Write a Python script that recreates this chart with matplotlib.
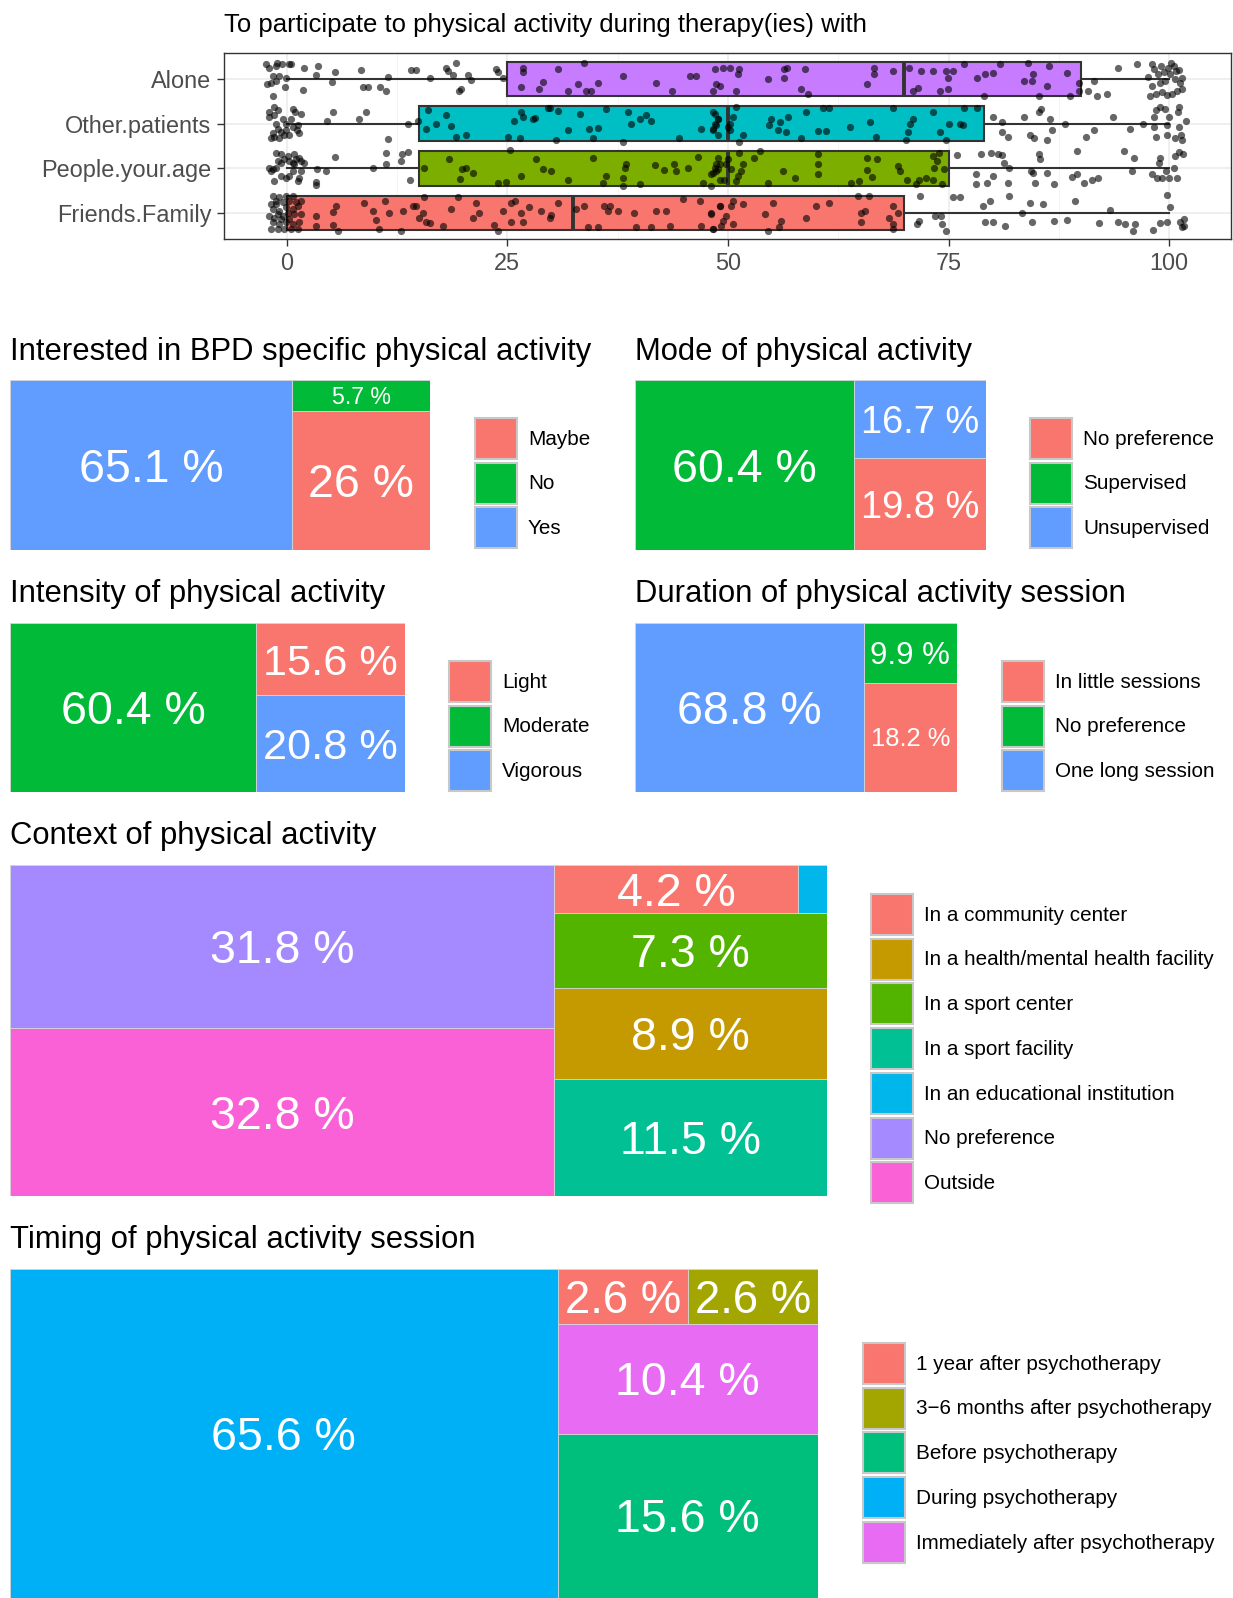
import numpy as np
import matplotlib
matplotlib.use('Agg')
import matplotlib.pyplot as plt
from matplotlib.patches import Patch
from matplotlib.transforms import ScaledTranslation

plt.rcParams['font.family'] = ['Liberation Sans', 'DejaVu Sans']

# ---------------- data: box plot ----------------
box_names = ['Friends.Family', 'People.your.age', 'Other.patients', 'Alone']
box_colors = ['#F8766D', '#7CAE00', '#00BFC4', '#C77CFF']
box_lo = [0, 0, 0, 0]
box_q1 = [0, 15, 15, 25]
box_med = [32.5, 50, 50, 70]
box_q3 = [70, 75, 79, 90]
box_hi = [100, 100, 100, 100]

# jittered answers (x value, vertical jitter)
friends_x = [-1.78, -1.02, -0.26, 0.49, 1.25, -1.59, -0.83, -0.08, 0.68, 1.44, -1.97, -1.4, -1.02, -0.45, 0.11,
             0.87, 1.63, -1.59, -0.83, -0.08, 0.68, 1.25, -1.78, -1.21, -0.45, 0.3, 1.06, 1.63, -1.59, -0.83,
             -0.08, 0.68, -0.64, 0.3, -1.21,
             3.3, 3.3, 5.2, 5.3, 5.6, 5.8, 8.8, 9.8, 10.1, 10.5, 11.1, 11.6, 13, 13.2, 14.3, 14.7, 15, 15.4, 15.8,
             16.2, 15.6, 17.7, 18.6, 19.4, 21.1, 21.5, 21.8, 23.5, 23.9, 24.5, 25.4, 25.9, 25.4, 26.6, 26.8, 27.5,
             28.8, 29.8, 30, 30.7, 32.8, 33.7, 34.1, 35.3, 36, 36.6, 36.4, 37.5, 39.4, 39.6, 41.3, 41.9, 43, 43.4,
             44.9, 46.8, 47, 48.1, 49.1, 48.3,
             48.3, 49.2, 49.4, 49.8, 50.6, 50.4, 50.6, 51.7, 48.1, 49.1, 54.2, 54.5, 55.1, 55.8, 56, 58.9, 60,
             61.5, 64.7, 66, 65.1, 65.1, 65.5, 68.7, 68.7, 68.3, 68.7, 69.3,
             71.4, 71.6, 71.8, 73.5, 74.1, 74.7, 74.3, 75.5, 76.3, 78.9, 79.1, 79.7, 80, 81.4, 81.9, 83.3, 84.4,
             84.2, 85.7, 86.9, 88.4, 89.3, 92, 93.3, 94.2, 95, 95.9, 96.1, 98.2, 98.9, 99.8, 99.7, 100.1, 101.2,
             101.7, 101.7, 101.5]
friends_dy = [-0.36, -0.36, -0.36, -0.36, -0.36, -0.21, -0.25, -0.21, -0.25, -0.21, -0.06, -0.1, -0.02, -0.06, 0.01,
              -0.02, -0.02, 0.09, 0.05, 0.13, 0.09, 0.16, 0.2, 0.2, 0.24, 0.28, 0.24, 0.28, 0.39, 0.35,
              0.39, 0.39, -0.13, -0.13, 0.28,
              -0.3, -0.07, -0.27, 0.03, 0.16, -0.39, 0.22, 0.05, -0.16, -0.36, 0.28, 0.01, -0.39, 0.05, 0.16, 0.15,
              -0.1, 0, -0.21, -0.22, 0.35, -0.28, 0.09, 0.35, -0.1, 0.22, 0, -0.26, -0.39, 0.05, 0.22, 0.28, -0.21,
              0.01, -0.21, 0.13, 0.05, -0.1, -0.04, 0.22, 0.09, 0.16, -0.32, -0.32, 0.16, 0.16, 0.05, 0.05, 0.01,
              -0.32, -0.32, 0.05, 0.05, -0.28, 0.31, 0.28, -0.28, 0, 0.16, -0.36,
              -0.36, -0.28, -0.17, -0.06, -0.25, 0.16, 0.28, 0.2, -0.02, 0.16, -0.02, -0.39, 0.22, -0.32, -0.17,
              -0.1, 0.16, 0.22, 0.39, 0.39, -0.21, 0.01, 0.05, -0.36, -0.25, -0.1, 0.16, 0.01,
              -0.25, -0.17, 0.39, -0.06, -0.06, -0.39, -0.25, 0.35, 0.35, 0.16, -0.19, 0.28, -0.19, -0.3, 0.39,
              0.01, -0.19, 0.22, 0.2, -0.17, -0.15, 0.28, -0.22, 0.07, -0.21, -0.25, -0.39, -0.25, -0.37, -0.22,
              -0.21, 0.4, 0.13, -0.21, -0.28, -0.13, -0.32]

people_x = [-1.97, -1.59, -1.21, -0.64, -0.08, 0.3, 0.68, 1.25, 1.44, 1.63, -1.4, -1.02, -0.64, -0.26, 0.3, 0.68,
            1.06, 1.63, 2.0, -1.21, -0.64, 0.11, 0.87, 1.44, 0.87, -1.78,
            3.3, 3.3, 3.4, 4.5, 5.5, 9.8, 11.3, 11.2, 13, 13.1, 13.8, 14,
            15.6, 18.4, 19.6, 19.9, 20.3, 21.1, 23.9, 24.9, 25.3, 26.5, 28.3, 29, 30, 31.9, 34.7, 35.8, 36.2,
            38.1, 38.1, 38.3, 38.5, 40, 41.7, 42.8, 43.9, 44.1, 45.5, 46.6, 48.1, 48.1, 48.7, 48.7, 48.9, 49.1,
            47.2, 48.3, 48.5, 48.9, 49.1, 49.6, 49.8, 50, 50.4, 50.9, 51.1, 51.5, 51.7, 51.3, 53, 53.6, 54.5,
            56.2, 57.6, 60.2, 60.2, 60.2, 63.9, 64.8, 65.8, 65.8, 66.3, 66.9, 69.5, 69.3, 70.3, 71.3, 71.6, 72.4,
            73.2, 73.3, 73.7, 74.3, 74.5, 73.2, 73.9,
            75.9, 78.1, 78.1, 79.3, 80, 78.7, 79.8, 80.6, 81, 81.3, 81.9, 81.7, 84.3, 84.6, 84.8, 85.4, 85.2,
            86.1, 86.9, 89, 89.5, 89.5, 90.4, 91.2, 91.9, 94.9, 95.8, 96, 98.1, 98.6, 99.2, 99.6, 100, 100.5,
            100.7, 100.9, 98.8, 101.1, 101.6, 99]
people_dy = [0.01, -0.02, 0.01, -0.17, -0.21, -0.17, -0.06, -0.28, -0.21, -0.06, -0.28, 0.16, 0.13, 0.2, 0.16, 0.13,
             0.2, 0.16, 0.13, 0.35, 0.31, 0.28, 0.31, 0.24, 0.09, -0.06,
             -0.38, -0.31, -0.02, -0.06, 0.26, 0, 0.09, 0.35, 0.16, 0.33, 0.36, -0.26,
             0, 0.22, -0.23, -0.02, 0, -0.1, -0.33, -0.31, 0.41, -0.16, 0.22, -0.02, -0.06, -0.27, 0.24, -0.33, -0.16,
             -0.39, -0.21, 0.01, 0.09, -0.36, 0.07, -0.04, 0.09, -0.06, 0, 0.26, -0.39, -0.13, -0.06, 0.09, 0.24, -0.25,
             -0.32, -0.1, 0.01, -0.02, 0.09, -0.25, 0.09, 0.2, -0.02, -0.28, -0.17, -0.06, 0.09, 0.35, 0.24, 0.39, -0.32,
             -0.06, -0.21, -0.13, 0.09, 0.31, -0.33, -0.28, -0.04, 0.24, -0.19, 0.22, -0.06, 0.05, -0.25, -0.36, -0.25,
             -0.21, -0.25, 0.01, 0.16, -0.36, -0.02, 0.28, 0.35,
             0.29, -0.36, -0.13, -0.33, -0.17, 0.33, 0.35, 0.33, 0.29, 0.13, 0.01, -0.32, -0.06, -0.1, -0.32, 0.2, 0.31,
             -0.1, -0.36, -0.19, -0.13, 0.39, -0.33, -0.25, -0.21, 0.39, -0.06, 0.24, -0.13, -0.21, -0.21, -0.06, -0.21,
             0.01, 0.28, -0.21, 0.11, 0.36, 0.31, 0.24]

other_x = [-1.78, -1.4, -0.83, -0.26, 0.3, -1.02, -0.64, -0.08, 0.68, 1.25, 1.44, -1.97, -1.4, -1.97, -1.4, -1.02,
           -0.45, 0.68, 0.98, 1.63, 0.49, -0.08, 1.13, -1.21, -1.59,
           4.6, 5.2, 8.2, 9.0, 11.5, 13.8, 14.9,
           15.8, 16, 16.9, 18, 18.6, 19.2, 20.3, 25.1, 25.8, 26.4, 26.8, 26.6, 27.9, 28.1, 29.6, 29.8, 30.5, 30.7,
           31.9, 33.2, 34.3, 34.7, 35.3, 36.2, 38.1, 39, 38.7, 40, 40.7, 41.3, 44.5, 47, 48.3, 48.5, 48.3, 48.9, 48.9,
           48.3, 48.7, 48.9, 48.5, 50, 50.2, 50.2, 50.6, 50.9, 51.3, 51.7, 54.7, 54.9, 55.7, 55.9, 56.6, 56.8, 58.3,
           58.9, 60.2, 61.1, 60.8, 61.5, 63.8, 66.1, 66.8, 68.7, 70.2, 70.4, 70.6, 71, 73.2, 74, 74.7, 75.1, 76.3,
           76.6, 76.8, 78.2,
           80, 81, 81, 81.7, 83.6, 84.2, 84.7, 85.3, 85.5, 86.1, 86.5, 86.7, 88.2, 90.6, 91.5, 93.6, 95.5, 97, 98.5,
           98.3, 98.3, 98.5, 98.9, 99.5, 99.7, 99.8, 100, 100.6, 101, 101.1, 101.3, 101.5, 101.9, 101.1]
other_dy = [-0.33, -0.3, -0.33, -0.26, -0.26, -0.11, -0.19, -0.15, -0.07, -0.04, -0.22, 0.15, 0.19, 0.26, 0.37, 0.3,
            0.11, 0.33, 0.26, 0.22, 0.11, 0, -0.15, 0, -0.22,
            0.06, 0.25, 0.11, 0.26, -0.35, 0, 0.06,
            -0.11, 0.3, 0, 0.19, -0.05, -0.3, -0.26, -0.3, 0.07, -0.33, 0.15, 0.26, 0.11, 0.13, 0.36, 0.36, -0.37, 0.28,
            -0.15, 0.22, -0.13, -0.33, -0.09, 0.32, -0.41, -0.01, 0.26, 0.11, 0.19, 0.07, -0.31, -0.13, -0.15, 0, 0.25,
            0.11, -0.26,
            -0.13, -0.04, 0.11, 0.22, -0.07, -0.15, 0, 0.15, 0.37, -0.41, -0.26, -0.04, 0.11, -0.15, 0.04, -0.19, 0.15,
            -0.33, 0.25, -0.16, -0.16, 0.36, 0.36, -0.07, 0.04, -0.3, 0.36, -0.37, -0.19, 0, 0.11, 0.26, -0.19, -0.37,
            -0.01, -0.01, -0.04, 0.36, 0.36,
            0.15, 0.04, -0.19, -0.3, 0.15, -0.26, -0.33, 0.26, 0.33, -0.37, 0.11, -0.15, 0, -0.3, -0.15, 0.15, -0.11,
            0, -0.3, -0.07, 0.15, 0.3, 0.37, 0.33, -0.26, -0.04, 0.15, -0.33, 0.26, -0.07, -0.26, -0.37, 0.07, 0.37]

alone_x = [-1.6, -2.2, -1.8, -1.2, -0.2, -1.5, -0.9, -2.0, -1.2, -0.5, 0.3, -2.3, -1.1, -0.1, 0.5,
           1.9, 3.3, 3.5, 5.1, 5.5, 8.4, 8.7, 9.2, 10.6, 11.3, 11.5, 14.1, 14.7, 16.2, 18, 18.3, 18.8, 19.2, 19.5,
           19.8, 20.6, 20.9, 23.7, 23.9, 24.5, 2.0,
           26.6, 26.8, 26.8, 28.6, 29.1, 30.7, 31.9, 33, 33.9, 34.5, 35.3, 33.7, 38.1, 41.9, 43.7, 45.7, 46.4, 48.3,
           48.7, 49.1, 48.5, 49.4, 50.2, 50.9, 51.1, 51.3,
           54.5, 56.3, 56.4, 56.7, 58.3, 58.7, 59.1, 65.7, 66.5, 66.5, 68.7, 71, 71.5, 70.5, 71.9, 73.2, 74, 74.9,
           74.9, 74.7, 75.5, 76.8, 79, 78.2, 79.1, 80, 80.8, 83.5, 84.4, 84.6, 84, 85.2, 86.2, 86.4, 88.8, 88.4,
           89.8, 89.8,
           90.8, 91.8, 92.9, 91.5, 94.2, 96.3,
           97.8, 98.5, 99.2, 99.8, 100.3, 100.9, 101.4, 98.1, 98.9, 99.5, 100.6, 101.2, 97.6, 98.7, 99.4, 100.1,
           100.8, 101.5, 98.3, 99.1, 99.9, 100.5, 101.1, 98.0, 100.2]
alone_dy = [-0.38, -0.12, -0.08, -0.04, -0.19, 0.07, 0.07, 0.25, 0.29, 0.33, 0.33, 0.33, 0.36, 0.03, 0.33,
            -0.25, 0.09, 0.29, -0.07, 0.15, 0.19, -0.19, -0.19, -0.17, -0.28, 0.04, 0.19, 0.19, 0.01, 0.25, 0.18, 0.09,
            0.36, -0.28, -0.23, 0.09, -0.03, 0.23, 0.16, 0.01, 0.25,
            -0.18, 0.16, 0.24, -0.22, -0.06, 0.22, -0.28, -0.12, -0.27, -0.27, -0.1, 0.36, 0.07, -0.1, -0.27, 0.07,
            0.07, -0.27, -0.12, -0.16, 0.22, 0.25, 0.25, -0.28, 0.1, 0.22,
            -0.01, 0.03, 0.22, 0.25, -0.23, 0.22, -0.34, -0.12, 0.1, 0.25, 0.18, -0.27, -0.21, 0.25, 0.18, 0.18, -0.27,
            -0.23, 0.03, 0.18, 0.18, 0.33, -0.38, 0.03, 0.1, 0.14, 0.33, -0.04, -0.04, 0.1, 0.36, -0.38, -0.16, 0.29,
            -0.38, 0.14, -0.27, -0.08,
            -0.27, -0.38, -0.34, -0.04, 0.25, 0.33,
            -0.38, -0.34, -0.3, -0.36, -0.33, -0.28, -0.22, -0.15, -0.1, -0.05, 0.0, -0.08, 0.05, 0.1, 0.15, 0.12,
            0.18, 0.03, 0.22, 0.28, 0.25, 0.3, 0.2, 0.33, 0.36]

# ---------------- data: treemaps ----------------
interest_labels = ['Maybe', 'No', 'Yes']
interest_pct = [26, 5.7, 65.1]
mode_labels = ['No preference', 'Supervised', 'Unsupervised']
mode_pct = [19.8, 60.4, 16.7]
intensity_labels = ['Light', 'Moderate', 'Vigorous']
intensity_pct = [15.6, 60.4, 20.8]
duration_labels = ['In little sessions', 'No preference', 'One long session']
duration_pct = [18.2, 9.9, 68.8]
context_labels = ['In a community center', 'In a health/mental health facility', 'In a sport center',
                  'In a sport facility', 'In an educational institution', 'No preference', 'Outside']
context_pct = [4.2, 8.9, 7.3, 11.5, 0.5, 31.8, 32.8]
timing_labels = ['1 year after psychotherapy', '3\u22126 months after psychotherapy', 'Before psychotherapy',
                 'During psychotherapy', 'Immediately after psychotherapy']
timing_pct = [2.6, 2.6, 15.6, 65.6, 10.4]

hue3 = ['#F8766D', '#00BA38', '#619CFF']
hue5 = ['#F8766D', '#A3A500', '#00BF7D', '#00B0F6', '#E76BF3']
hue7 = ['#F8766D', '#C49A00', '#53B400', '#00C094', '#00B6EB', '#A58AFF', '#FB61D7']

W, H = 1233, 1598
fig = plt.figure(figsize=(W / 100, H / 100), dpi=100)
renderer = fig.canvas.get_renderer()


def rect(l, t, r, b):
    return [l / W, 1 - b / H, (r - l) / W, (b - t) / H]


# ---------------- box plot ----------------
ax = fig.add_axes(rect(224, 53, 1231, 239))
stats = []
for i in range(4):
    stats.append(dict(whislo=box_lo[i], q1=box_q1[i], med=box_med[i], q3=box_q3[i], whishi=box_hi[i]))
bp = ax.bxp(stats, positions=[1, 2, 3, 4], widths=0.77, orientation='horizontal', patch_artist=True,
            showcaps=False, showfliers=False,
            boxprops=dict(edgecolor='#333333', linewidth=1.5),
            whiskerprops=dict(color='#333333', linewidth=1.5),
            medianprops=dict(color='#333333', linewidth=2.8))
for patch, c in zip(bp['boxes'], box_colors):
    patch.set_facecolor(c)

pts = [(friends_x, friends_dy), (people_x, people_dy), (other_x, other_dy), (alone_x, alone_dy)]
for i, (xs, dys) in enumerate(pts):
    ax.scatter(xs, i + 1 + np.array(dys), s=27, color='black', alpha=0.6, linewidths=0, zorder=4)

ax.set_xlim(-7.1, 107.0)
ax.set_ylim(0.42, 4.58)
ax.set_xticks([0, 25, 50, 75, 100])
ax.set_xticklabels(['0', '25', '50', '75', '100'])
ax.set_xticks([12.5, 37.5, 62.5, 87.5], minor=True)
ax.set_yticks([1, 2, 3, 4])
ax.set_yticklabels(box_names)
ax.grid(which='major', color='#EBEBEB', linewidth=1.1)
ax.grid(which='minor', axis='x', color='#F2F2F2', linewidth=0.6)
ax.set_axisbelow(True)
ax.tick_params(which='major', length=5, width=1, color='#333333', labelcolor='#4D4D4D', labelsize=16.9, pad=4)
ax.tick_params(which='minor', length=0)
for s in ax.spines.values():
    s.set_color('#333333')
    s.set_linewidth(1.0)
fig.text(224 / W, 1 - 31.6 / H, 'To participate to physical activity during therapy(ies) with',
         fontsize=18.5, va='baseline')


# ---------------- treemaps ----------------
def squarify(vals):
    order = sorted(range(len(vals)), key=lambda i: -vals[i])
    total = float(sum(vals))
    areas = [vals[i] / total for i in order]
    x, y, w, h = 0.0, 0.0, 1.0, 1.0
    out = {}

    def worst(row, side):
        s = sum(row)
        return max(max(side * side * a / (s * s), s * s / (side * side * a)) for a in row)

    k = 0
    while k < len(order):
        vertical = w >= h
        side = h if vertical else w
        row = [areas[k]]
        while k + len(row) < len(order) and worst(row + [areas[k + len(row)]], side) <= worst(row, side):
            row.append(areas[k + len(row)])
        thick = sum(row) / side
        pos = y if vertical else x
        for j, a in enumerate(row):
            ln = a / thick
            if vertical:
                out[order[k + j]] = (x, pos, thick, ln)
            else:
                out[order[k + j]] = (pos, y, ln, thick)
            pos += ln
        if vertical:
            x += thick
            w -= thick
        else:
            y += thick
            h -= thick
        k += len(row)
    return out


MAX_FS = 33.5
PAD = 7


def treemap(bounds, title, base, labels, vals, colors, leg):
    l, t, r, b = bounds
    ax = fig.add_axes(rect(l, t, r, b))
    ax.set_xlim(0, 1)
    ax.set_ylim(0, 1)
    ax.axis('off')
    tiles = squarify(vals)
    for i, v in enumerate(vals):
        x0, y0, w, h = tiles[i]
        ax.bar(x0, h, width=w, bottom=y0, align='edge', color=colors[i], edgecolor='#D5D5D5', linewidth=0.6)
        txt = ax.text(x0 + w / 2, y0 + h / 2, f'{v:g} %', fontsize=MAX_FS, color='white',
                      ha='center', va='baseline')
        tw = txt.get_window_extent(renderer).width
        cap = 0.716 * MAX_FS * 100 / 72
        k = min(1.0, (w * (r - l) - 2 * PAD) / tw, (h * (b - t) - 2 * PAD) / cap)
        fs = MAX_FS * k
        if fs < 8:
            txt.remove()
            continue
        txt.set_fontsize(fs)
        txt.set_transform(ax.transData + ScaledTranslation(0, -0.358 * fs / 72, fig.dpi_scale_trans))
    fig.text(l / W, 1 - base / H, title, fontsize=22.3, va='baseline')
    handles = [Patch(facecolor=c, edgecolor='#C8C8C8', linewidth=1.5) for c in colors]
    fig.legend(handles, labels, loc='upper left', bbox_to_anchor=(leg[0] / W, 1 - leg[1] / H),
               frameon=False, borderpad=0, borderaxespad=0, fontsize=14.9, handlelength=2.03,
               handleheight=2.67, labelspacing=0.18, handletextpad=0.53)


treemap((10, 380, 430, 550), 'Interested in BPD specific physical activity', 360,
        interest_labels, interest_pct, hue3, (475, 418))
treemap((635, 380, 986, 550), 'Mode of physical activity', 360,
        mode_labels, mode_pct, hue3, (1030, 418))
treemap((10, 623, 405, 792), 'Intensity of physical activity', 602,
        intensity_labels, intensity_pct, hue3, (449, 661))
treemap((635, 623, 957, 792), 'Duration of physical activity session', 602,
        duration_labels, duration_pct, hue3, (1002, 661))
treemap((10, 865, 827, 1196), 'Context of physical activity', 844,
        context_labels, context_pct, hue7, (871, 894))
treemap((10, 1269, 818, 1598), 'Timing of physical activity session', 1248,
        timing_labels, timing_pct, hue5, (863, 1343))

fig.savefig('out.png', dpi=100)
